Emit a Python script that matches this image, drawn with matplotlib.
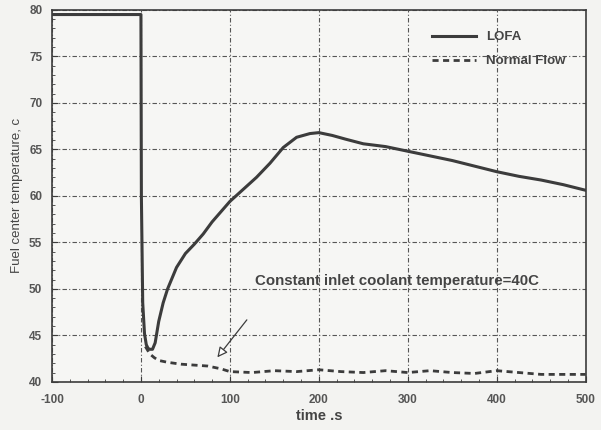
import matplotlib
matplotlib.use("Agg")
import matplotlib.pyplot as plt
from matplotlib.ticker import MultipleLocator

# LOFA fuel centre temperature
lofa_t = [-100, -50, 0, 0.5, 2, 4, 6, 8, 10, 13, 16, 20, 25, 30, 40, 50, 60, 70, 80,
          90, 100, 115, 130, 145, 160, 175, 190, 200, 215, 230, 250, 275, 300, 325,
          350, 375, 400, 425, 450, 475, 500]
lofa_y = [79.5, 79.5, 79.5, 60.0, 48.5, 45.2, 44.0, 43.6, 43.5, 43.5, 44.2, 46.5,
          48.5, 50.0, 52.3, 53.8, 54.8, 55.9, 57.2, 58.3, 59.4, 60.7, 62.0, 63.5,
          65.2, 66.3, 66.7, 66.8, 66.5, 66.1, 65.6, 65.3, 64.8, 64.3, 63.8, 63.2,
          62.6, 62.1, 61.7, 61.2, 60.6]

# Normal flow
norm_t = [5, 10, 15, 20, 30, 45, 60, 75, 90, 100, 125, 150, 175, 200, 225, 250,
          275, 300, 325, 350, 375, 400, 425, 450, 475, 500]
norm_y = [43.8, 43.0, 42.6, 42.3, 42.1, 41.9, 41.8, 41.7, 41.4, 41.1, 41.0, 41.2,
          41.1, 41.3, 41.1, 41.0, 41.2, 41.0, 41.2, 41.0, 40.9, 41.2, 41.0, 40.8,
          40.8, 40.8]

x_ticks = [-100, 0, 100, 200, 300, 400, 500]
y_ticks = [40, 45, 50, 55, 60, 65, 70, 75, 80]

ink = "#3c3c3c"
plt.rcParams["font.family"] = ["Liberation Sans", "DejaVu Sans"]
plt.rcParams["axes.unicode_minus"] = False

fig = plt.figure(figsize=(6.01, 4.30), dpi=100, facecolor="#f3f3f1")
ax = fig.add_axes([0.0865, 0.112, 0.888, 0.865])
ax.set_facecolor("#f6f6f4")

ax.plot(lofa_t, lofa_y, color=ink, lw=2.2, label="LOFA")
ax.plot(norm_t, norm_y, color=ink, lw=2.0, ls=(0, (2.2, 1.6)), label="Normal Flow")

ax.set_xlim(-100, 500)
ax.set_ylim(40, 80)
ax.set_xticks(x_ticks)
ax.set_yticks(y_ticks)
ax.xaxis.set_minor_locator(MultipleLocator(20))
ax.yaxis.set_minor_locator(MultipleLocator(1))
ax.tick_params(which="both", direction="in", colors=ink, labelsize=8.5)
ax.tick_params(which="major", length=4)
ax.tick_params(which="minor", length=2)
ax.tick_params(axis="x", which="major", pad=9)
ax.tick_params(axis="y", which="major", pad=7)
for lbl in ax.get_xticklabels() + ax.get_yticklabels():
    lbl.set_fontweight("bold")
    lbl.set_color("#555555")
ax.grid(True, which="major", color="#555555", lw=0.8, ls=(0, (4, 2, 1, 2)))
for sp in ax.spines.values():
    sp.set_color(ink)
    sp.set_linewidth(1.2)

ax.set_xlabel("time .s", fontsize=10.5, fontweight="bold", color="#444444", labelpad=2)
ax.set_ylabel("Fuel center temperature, c", fontsize=9.5, color="#444444", labelpad=4)

ax.annotate("", xy=(84, 42.4), xytext=(121, 46.9),
            arrowprops=dict(arrowstyle="-|>,head_length=0.6,head_width=0.3",
                            fc="white", ec=ink, lw=0.9))
ax.text(128, 50.8, "Constant inlet coolant temperature=40C", fontsize=10.8,
        fontweight="bold", color="#444444", va="center", ha="left")

leg = ax.legend(loc="upper right", bbox_to_anchor=(0.985, 0.975), frameon=False,
                fontsize=9.5, handlelength=3.3, labelspacing=0.9)
for t in leg.get_texts():
    t.set_fontweight("bold")
    t.set_color("#444444")

fig.savefig("out.png", dpi=100, facecolor=fig.get_facecolor())
